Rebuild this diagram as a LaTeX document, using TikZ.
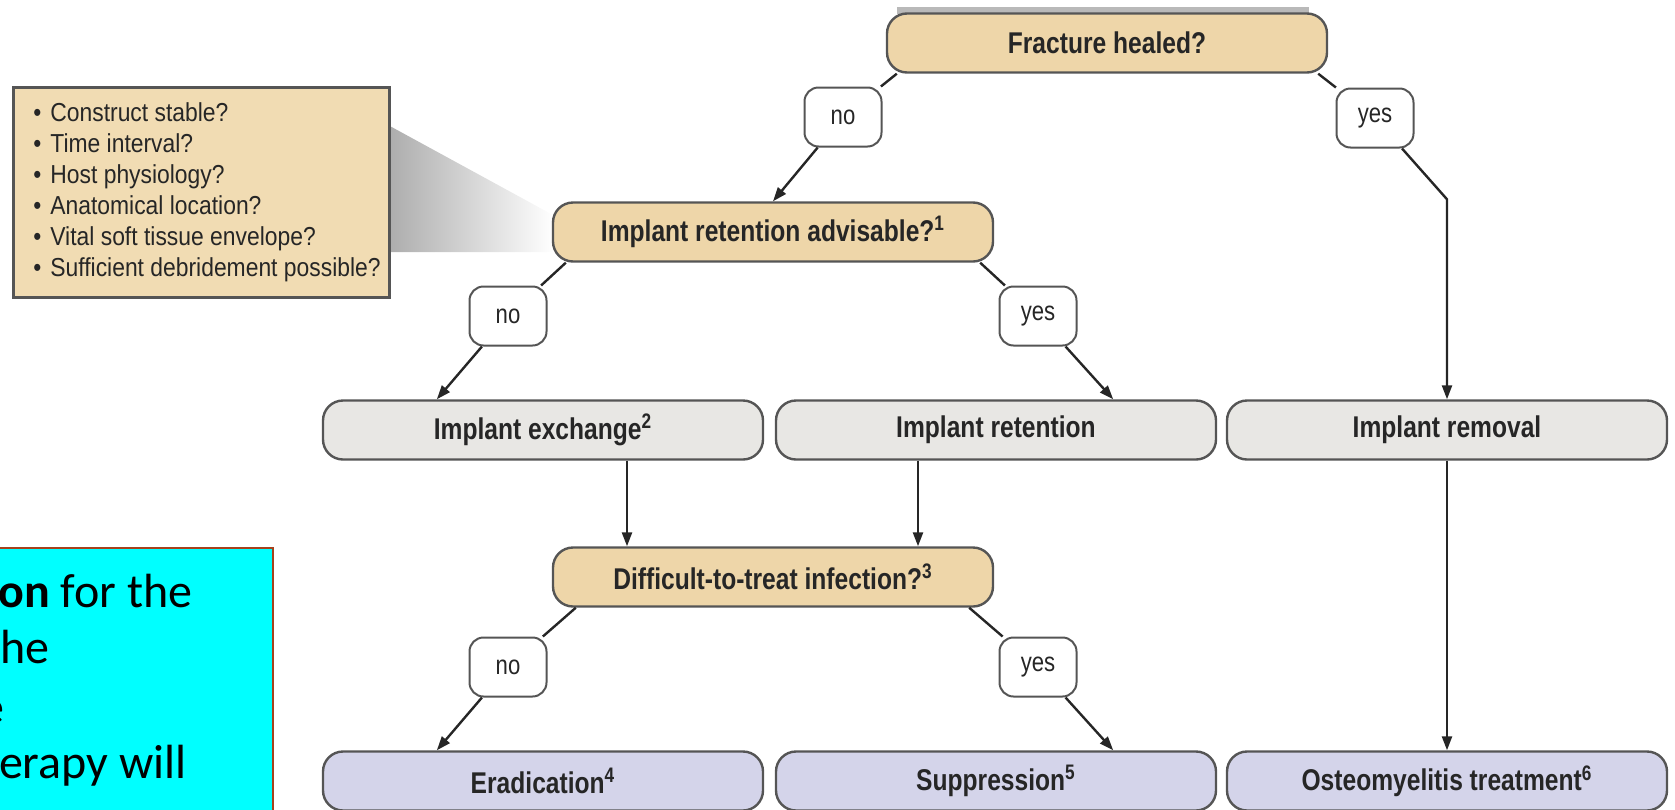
\documentclass[tikz,border=0pt]{standalone}
\usepackage{fontspec}
\setmainfont{Carlito}
\newfontfamily\condfont[FakeStretch=0.82]{Liberation Sans}
\newfontfamily\listfont[FakeStretch=0.88]{Liberation Sans}
\usetikzlibrary{arrows.meta,calc,positioning}
\definecolor{tanfill}{HTML}{EED6A9}
\definecolor{boxtan}{HTML}{F1DCB3}
\definecolor{greyfill}{HTML}{E8E7E4}
\definecolor{bluefill}{HTML}{D4D4EA}
\definecolor{edgegrey}{HTML}{555555}
\definecolor{inkgrey}{HTML}{262626}
\definecolor{rimred}{HTML}{A5421C}
\definecolor{notecyan}{HTML}{00FFFF}
\begin{document}
\begin{tikzpicture}[x=0.5pt,y=-0.5pt]
	\tikzstyle{flow box}=[rectangle,rounded corners=10pt,draw=edgegrey,line width=1.2pt,minimum width=220pt,minimum height=29.5pt,inner sep=0pt,font=\condfont\bfseries\fontsize{15}{17}\selectfont,text=inkgrey]
	\tikzset{
		tan node/.style={flow box,fill=tanfill},
		grey node/.style={flow box,fill=greyfill},
		blue node/.style={flow box,fill=bluefill},
		answer node/.style={rectangle,rounded corners=7pt,draw=edgegrey,fill=white,line width=1pt,minimum width=38.5pt,minimum height=29.5pt,inner sep=0pt,font=\condfont\fontsize{13.5}{15}\selectfont,text=inkgrey},
		link/.style={draw=inkgrey,line width=1.2pt},
		arrow link/.style={link,-{Triangle[length=7pt,width=5pt]}},
		note text/.style={inner sep=0pt,font=\fontsize{24}{28.8}\selectfont,anchor=base east}
	}
	\useasboundingbox (0,0) rectangle (1675,809);
	\clip (0,0) rectangle (1675,809);

	% checklist with its callout
	\shade[left color=gray!65,right color=white] (388,125) -- (553,215) -- (553,252) -- (388,252) -- cycle;
	\node(checks)[rectangle,draw=edgegrey,line width=1.5pt,fill=boxtan,minimum width=188pt,minimum height=105pt,anchor=north west] at (12,86) {};
	\foreach \q [count=\i from 0] in {Construct stable?,Time interval?,Host physiology?,Anatomical location?,Vital soft tissue envelope?,Sufficient debridement possible?}
		\node(check\i)[anchor=base west,inner sep=0pt,font=\listfont\fontsize{13}{15}\selectfont,text=inkgrey] at (33,{121+31*\i}) {\makebox[8.5pt][l]{\textbullet}\q};

	% decision tree
	\fill[gray!55] (897,7) rectangle (1309,14);
	\node(fh)[tan node] at (1107,43) {Fracture healed?};
	\node(no1)[answer node] at (843,117) {no};
	\node(yes1)[answer node] at (1375,118) {yes};
	\node(ir)[tan node] at (773,232) {Implant retention advisable?\textsuperscript{1}};
	\node(no2)[answer node] at (508,316) {no};
	\node(yes2)[answer node] at (1038,316) {yes};
	\node(ex)[grey node] at (543,430) {Implant exchange\textsuperscript{2}};
	\node(ret)[grey node] at (996,430) {Implant retention};
	\node(rem)[grey node] at (1447,430) {Implant removal};
	\node(dif)[tan node] at (773,577) {Difficult-to-treat infection?\textsuperscript{3}};
	\node(no3)[answer node] at (508,667) {no};
	\node(yes3)[answer node] at (1038,667) {yes};
	\node(erad)[blue node] at (543,781) {Eradication\textsuperscript{4}};
	\node(sup)[blue node] at (996,781) {Suppression\textsuperscript{5}};
	\node(ost)[blue node] at (1447,781) {Osteomyelitis treatment\textsuperscript{6}};

	\path (rem.north) ++(0,-200) coordinate (bend);
	\coordinate (exout) at ($(ex.south)+(84,0)$);
	\coordinate (retout) at ($(ret.south)+(-78,0)$);

	\draw[link] ($(fh.south west)+(11,0)$) -- (no1);
	\draw[arrow link] (no1) -- (ir.north);
	\draw[link] ($(fh.south east)+(-10,0)$) -- (yes1);
	\draw[arrow link] (yes1) -- (bend) -- (rem.north);
	\draw[link] ($(ir.south west)+(14,0)$) -- (no2);
	\draw[arrow link] (no2) -- ($(ex.north west)!0.26!(ex.north east)$);
	\draw[link] ($(ir.south east)+(-14,0)$) -- (yes2);
	\draw[arrow link] (yes2) -- ($(ret.north west)!0.765!(ret.north east)$);
	\draw[arrow link] (exout) -- (exout |- dif.north);
	\draw[arrow link] (retout) -- (retout |- dif.north);
	\draw[arrow link] (rem) -- (ost);
	\draw[link] ($(dif.south west)+(24,0)$) -- (no3);
	\draw[arrow link] (no3) -- ($(erad.north west)!0.26!(erad.north east)$);
	\draw[link] ($(dif.south east)+(-25,0)$) -- (yes3);
	\draw[arrow link] (yes3) -- ($(sup.north west)!0.765!(sup.north east)$);

	% slide note, cut by the left edge
	\node(note)[rectangle,draw=rimred,line width=1.2pt,fill=notecyan,anchor=north west,minimum width=146pt,minimum height=142pt] at (-20,547) {};
	\node(note1)[note text] at (193,607) {\textbf{ion} for the};
	\node(note2)[note text] at (50,663) {the};
	\node(note3)[note text] at (5,723) {e};
	\node(note4)[note text] at (187,778) {erapy will};
\end{tikzpicture}
\end{document}
